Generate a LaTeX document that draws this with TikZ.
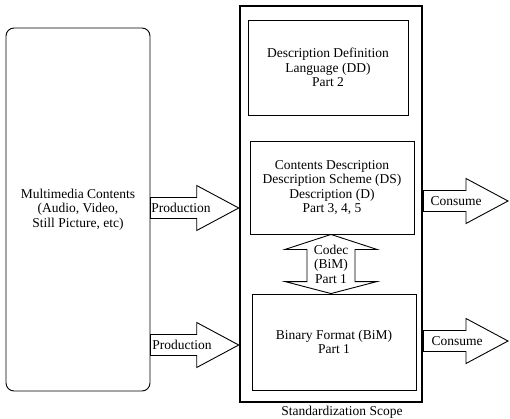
\documentclass[tikz,border=0pt]{standalone}
\usepackage{fontspec}
\setmainfont{Liberation Serif}
\usepackage{tikz}
\usetikzlibrary{calc}
\tikzstyle{txt} = [inner sep=0pt, align=center, font=\fontsize{13.5}{14.5}\selectfont]
\tikzstyle{source} = [rectangle, draw, rounded corners=8pt, txt, line width=0.9pt]
\tikzstyle{scopeBox} = [rectangle, draw, line width=2.6pt]
\tikzstyle{part} = [rectangle, draw, txt, line width=0.9pt]
\tikzstyle{flowArrow} = [draw, line width=0.9pt, to path={let \p1=(\tikztostart), \p2=(\tikztotarget) in
  (\x1,\y1+10.5pt) -- (\x2-42pt,\y1+10.5pt) -- (\x2-42pt,\y1+22.5pt) -- (\x2,\y1)
  -- (\x2-42pt,\y1-22.5pt) -- (\x2-42pt,\y1-10.5pt) -- (\x1,\y1-10.5pt) -- cycle}]
\tikzstyle{codecArrow} = [draw, line width=0.9pt, to path={let \p1=(\tikztostart), \p2=(\tikztotarget) in
  (\x1,\y1) -- (\x1+46pt,\y1-15pt) -- (\x1+24pt,\y1-15pt) -- (\x1+24pt,\y2+12pt) -- (\x1+46pt,\y2+12pt)
  -- (\x2,\y2) -- (\x1-46pt,\y2+12pt) -- (\x1-24pt,\y2+12pt) -- (\x1-24pt,\y1-15pt) -- (\x1-46pt,\y1-15pt) -- cycle}]

\begin{document}
\begin{tikzpicture}[x=1pt, y=1pt]
\useasboundingbox (0,0) rectangle (510,-419);

\node[source, minimum width=144pt, minimum height=363pt] at (78,-209.5) (media) {Multimedia Contents\\(Audio, Video,\\Still Picture, etc)};

\node[scopeBox, minimum width=182pt, minimum height=396pt] at (331,-204) (scope) {};
\node[txt] at (342,-412) (scopeLabel) {Standardization Scope};

\node[part, minimum width=160pt, minimum height=95pt] at (328,-67.5) (ddl) {Description Definition\\Language (DD)\\Part 2};
\node[part, minimum width=164pt, minimum height=93pt] at (332,-187.5) (cds) {Contents Description\\Description Scheme (DS)\\Description (D)\\Part 3, 4, 5};
\node[part, minimum width=164pt, minimum height=96pt] at (334,-342) (bim) {Binary Format (BiM)\\Part 1};

\node[txt] at (331,-264) (codec) {Codec\\(BiM)\\Part 1};

\node[txt] at (181,-208) (prodUpper) {Production};
\node[txt] at (182,-345) (prodLower) {Production};
\node[txt] at (456,-201) (consumeUpper) {Consume};
\node[txt] at (457,-341) (consumeLower) {Consume};

\coordinate (outUpper) at (508,-201);
\coordinate (outLower) at (508,-341);

\path [flowArrow] (media.east |- prodUpper) to (scope.west |- prodUpper);
\path [flowArrow] (media.east |- prodLower) to (scope.west |- prodLower);
\path [flowArrow] (scope.east |- consumeUpper) to (outUpper);
\path [flowArrow] (scope.east |- consumeLower) to (outLower);

\path [codecArrow] (cds.south -| codec) to (bim.north -| codec);

\end{tikzpicture}
\end{document}
